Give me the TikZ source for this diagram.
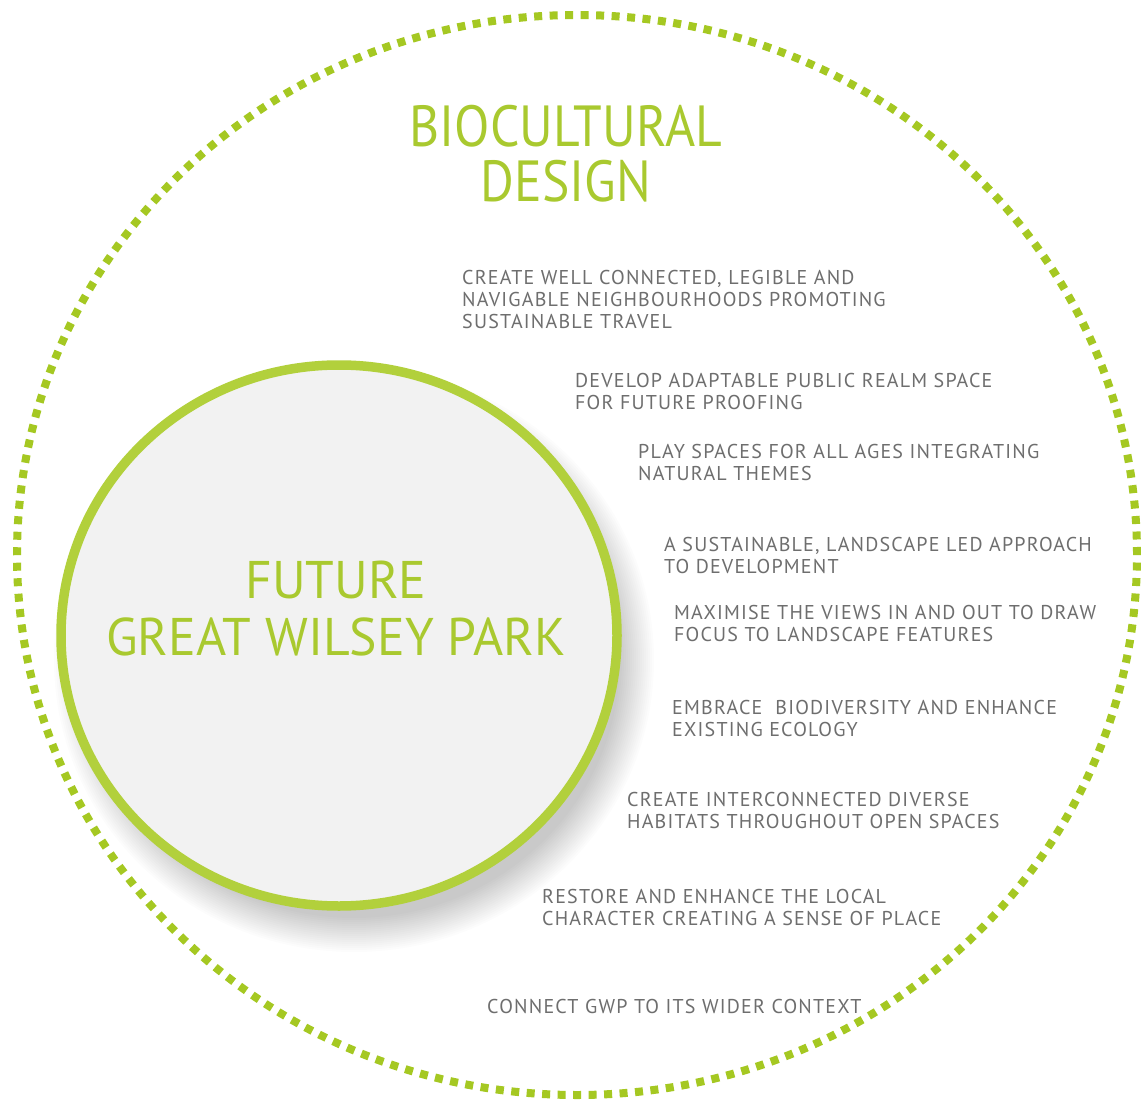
\documentclass[tikz,border=0pt]{standalone}
\usepackage{fontspec}
\setmainfont{PT Sans}
\newfontfamily\itemfont[LetterSpace=6]{PT Sans}
\newfontfamily\titlefont[FakeStretch=0.89]{PT Sans}
\newfontfamily\parkfont[FakeStretch=0.975]{PT Sans}
\usetikzlibrary{shapes.geometric}
\definecolor{dotgreen}{HTML}{A5C822}
\definecolor{ringgreen}{HTML}{B2D03C}
\definecolor{titlegreen}{HTML}{A9C92F}
\definecolor{txtgray}{HTML}{6E6E6E}
\definecolor{fillgray}{HTML}{F2F2F2}
\tikzset{
  outerring/.style={ellipse, draw=dotgreen, line width=8pt, dash pattern=on 8pt off 7.5pt, inner sep=0pt},
  parkring/.style={ellipse, draw=ringgreen, fill=fillgray, line width=9.5pt, inner sep=0pt},
  bigtitle/.style={text=titlegreen, font=\titlefont\fontsize{58}{55}\selectfont, align=center, inner sep=0pt},
  parktitle/.style={text=titlegreen, font=\parkfont\fontsize{53}{57}\selectfont, align=center, inner sep=0pt},
  item/.style={text=txtgray, font=\itemfont\fontsize{20}{22}\selectfont, align=left, anchor=north west, inner sep=0pt},
}
\begin{document}
\begin{tikzpicture}[x=1pt,y=-1pt]
\useasboundingbox (0,0) rectangle (1141,1102);
\fill[white] (0,0) rectangle (1141,1102);
\node[outerring, minimum width=1120pt, minimum height=1080pt] (outer) at (577,555) {};
% soft shadow of the park circle
\foreach \i in {0,...,17}{
  \fill[black, opacity=0.010] (354,660) ellipse [x radius={284pt+2pt*\i-18pt}, y radius={276pt+2pt*\i-18pt}];
}
\node[parkring, minimum width=556pt, minimum height=541pt] (park) at (339,635.5) {};
\node[parktitle, anchor=north] (parkname) at (336,561) {FUTURE\\GREAT WILSEY PARK};
\node[bigtitle, anchor=north] (title) at (566,105) {BIOCULTURAL\\DESIGN};
\node[item] (t1) at (462,270) {CREATE WELL CONNECTED, LEGIBLE AND\\NAVIGABLE NEIGHBOURHOODS PROMOTING\\SUSTAINABLE TRAVEL};
\node[item] (t2) at (575,373) {DEVELOP ADAPTABLE PUBLIC REALM SPACE\\FOR FUTURE PROOFING};
\node[item] (t3) at (638,444) {PLAY SPACES FOR ALL AGES INTEGRATING\\NATURAL THEMES};
\node[item] (t4) at (664,537) {A SUSTAINABLE, LANDSCAPE LED APPROACH\\TO DEVELOPMENT};
\node[item] (t5) at (674,605) {MAXIMISE THE VIEWS IN AND OUT TO DRAW\\FOCUS TO LANDSCAPE FEATURES};
\node[item] (t6) at (672,700) {EMBRACE\ \ BIODIVERSITY AND ENHANCE\\EXISTING ECOLOGY};
\node[item] (t7) at (627,792) {CREATE INTERCONNECTED DIVERSE\\HABITATS THROUGHOUT OPEN SPACES};
\node[item] (t8) at (542,889) {RESTORE AND ENHANCE THE LOCAL\\CHARACTER CREATING A SENSE OF PLACE};
\node[item] (t9) at (487,999) {CONNECT GWP TO ITS WIDER CONTEXT};
\end{tikzpicture}
\end{document}
